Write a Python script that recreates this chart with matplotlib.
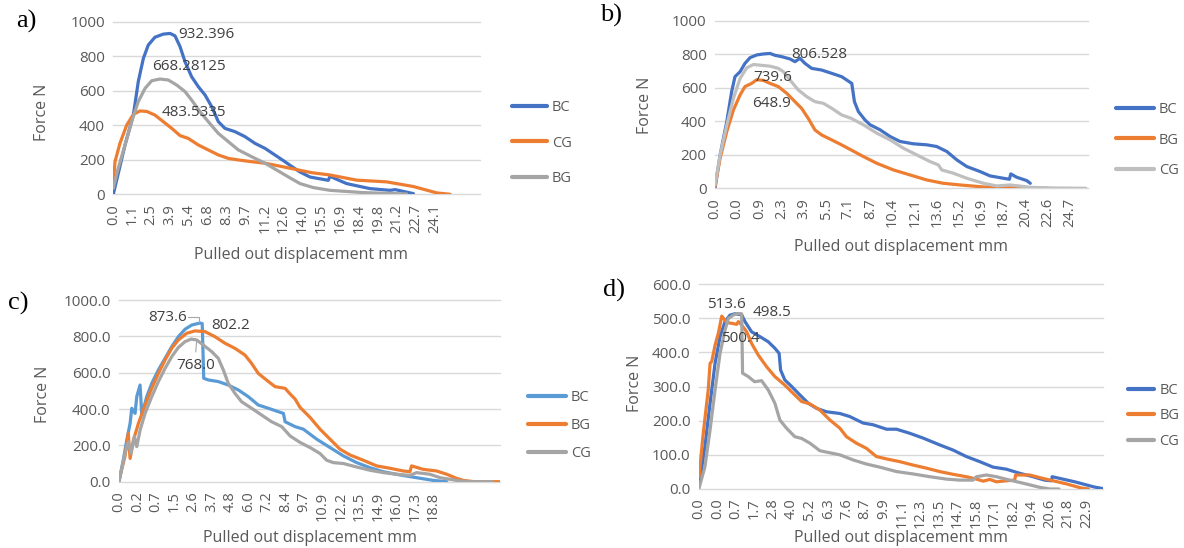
import matplotlib
matplotlib.use("Agg")
import matplotlib.pyplot as plt
import numpy as np

plt.rcParams['font.family'] = ['Open Sans', 'DejaVu Sans']

# ---------------- data (positions in category-label index units) ----------------
A_TICKS = ['0.0','1.1','2.5','3.9','5.4','6.8','8.3','9.7','11.2','12.6','14.0','15.5','16.9','18.4','19.8','21.2','22.7','24.1']
B_TICKS = ['0.0','0.0','0.9','2.3','3.9','5.5','7.1','8.7','10.4','12.1','13.6','15.2','16.9','18.7','20.4','22.6','24.7']
C_TICKS = ['0.0','0.2','0.7','1.5','2.6','3.7','4.8','6.0','7.2','8.4','9.7','10.9','12.2','13.5','14.9','16.0','17.3','18.8']
D_TICKS = ['0.0','0.0','0.7','1.7','2.8','4.0','5.2','6.3','7.6','8.7','9.9','11.1','12.3','13.5','14.7','15.8','17.1','18.2','19.4','20.6','21.8','22.9']

A_BC_POS = [0, 0.62, 1.06, 1.32, 1.59, 1.85, 2.2, 2.64, 3.0, 3.26, 3.53, 3.79, 4.14, 4.49, 4.85, 5.2, 5.55, 5.9, 6.43, 6.96, 7.49, 8.02, 8.54, 9.07, 9.34, 9.87, 10.4, 11.36, 11.45, 12.33, 13.56, 14.62, 14.9, 15.86]
A_BC_F = [0, 286, 459, 653, 788, 865, 910, 928, 932, 918, 855, 768, 681, 624, 575, 508, 421, 382, 363, 334, 295, 266, 228, 189, 168, 129, 100, 81, 104, 62, 33, 23, 27, 4]
A_CG_POS = [0, 0.09, 0.35, 0.71, 1.06, 1.41, 1.77, 2.2, 2.64, 3.09, 3.53, 3.96, 4.49, 5.02, 5.55, 6.08, 6.61, 7.31, 8.02, 8.72, 9.6, 10.5, 11.45, 12.86, 14.45, 15.86, 17.1, 17.8]
A_CG_F = [60, 189, 295, 401, 463, 483, 480, 459, 421, 382, 340, 324, 286, 257, 228, 208, 199, 189, 180, 165, 145, 125, 112, 82, 72, 45, 8, 0]
A_BG_POS = [0, 0.26, 0.62, 0.97, 1.32, 1.68, 2.03, 2.47, 2.91, 3.35, 3.79, 4.14, 4.58, 5.02, 5.55, 6.08, 6.61, 7.31, 8.02, 8.72, 9.34, 9.87, 10.57, 11.45, 13.2, 15.5]
A_BG_F = [35, 151, 286, 421, 537, 614, 658, 668, 662, 633, 595, 546, 479, 421, 353, 305, 257, 218, 180, 135, 95, 62, 39, 23, 10, 2]

B_BC_POS = [0, 0.23, 0.53, 0.75, 0.9, 1.13, 1.35, 1.58, 1.88, 2.18, 2.48, 2.7, 3.0, 3.38, 3.6, 3.83, 4.05, 4.35, 4.8, 5.26, 5.71, 6.16, 6.28, 6.46, 6.76, 6.98, 7.43, 7.88, 8.33, 8.93, 9.53, 9.98, 10.44, 10.89, 11.34, 11.94, 12.39, 12.99, 13.26, 13.32, 13.59, 14.04, 14.2]
B_BC_F = [0, 199, 398, 578, 667, 697, 747, 781, 797, 803, 806, 795, 787, 773, 757, 777, 747, 717, 707, 687, 667, 627, 518, 458, 408, 380, 350, 310, 280, 266, 260, 250, 220, 170, 130, 100, 74, 60, 54, 86, 66, 46, 30]
B_BG_POS = [0, 0.23, 0.53, 0.83, 1.13, 1.35, 1.65, 1.88, 2.18, 2.48, 2.85, 3.23, 3.6, 3.9, 4.2, 4.5, 4.8, 5.26, 5.71, 6.12, 6.68, 7.28, 8.03, 8.78, 9.53, 10.28, 11.04, 12.09, 13.14, 14.2, 15.0]
B_BG_F = [10, 179, 339, 468, 558, 608, 627, 649, 645, 627, 608, 568, 518, 478, 418, 349, 319, 289, 259, 230, 190, 150, 110, 80, 50, 30, 20, 8, 4, 2, 0]
B_CG_POS = [0, 0.23, 0.53, 0.83, 1.13, 1.43, 1.73, 2.1, 2.48, 2.85, 3.08, 3.38, 3.75, 4.13, 4.5, 4.88, 5.26, 5.71, 6.12, 6.68, 7.28, 7.88, 8.48, 9.08, 9.68, 10.06, 10.21, 10.74, 11.34, 12.09, 12.69, 13.29, 14.2, 15.2, 16.7]
B_CG_F = [20, 199, 378, 538, 657, 720, 740, 735, 730, 717, 697, 647, 588, 548, 518, 508, 478, 438, 419, 380, 330, 290, 240, 200, 160, 140, 110, 90, 60, 30, 14, 20, 6, 2, 0]

C_BC_POS = [0, 0.23, 0.42, 0.6, 0.69, 0.87, 0.96, 1.14, 1.23, 1.5, 1.77, 2.13, 2.49, 2.85, 3.21, 3.57, 3.93, 4.38, 4.5, 4.58, 4.83, 5.37, 5.91, 6.45, 6.99, 7.53, 8.08, 8.62, 8.89, 8.98, 9.52, 9.97, 10.69, 11.41, 12.13, 12.85, 13.57, 14.29, 15.19, 16.09, 17.0, 17.72]
C_BC_F = [0, 119, 229, 321, 404, 376, 468, 532, 367, 468, 541, 615, 679, 743, 798, 839, 862, 873.6, 870, 569, 560, 551, 532, 505, 468, 422, 404, 385, 376, 330, 303, 289, 234, 188, 142, 105, 77, 55, 37, 22, 7, 0]
C_BG_POS = [0, 0.32, 0.5, 0.6, 0.78, 1.05, 1.41, 1.77, 2.13, 2.49, 2.85, 3.21, 3.66, 4.11, 4.65, 5.19, 5.73, 6.27, 6.81, 7.17, 7.53, 8.08, 8.44, 8.98, 9.25, 9.52, 9.79, 10.33, 10.87, 11.41, 11.95, 12.49, 13.21, 13.93, 14.65, 15.37, 15.73, 15.82, 16.45, 17.17, 17.72, 18.26, 18.62, 19.2, 20.6]
C_BG_F = [9, 138, 266, 128, 229, 321, 422, 514, 596, 670, 734, 780, 817, 830, 826, 798, 762, 734, 697, 651, 596, 551, 523, 514, 483, 455, 409, 354, 289, 234, 179, 147, 118, 87, 74, 59, 55, 87, 68, 59, 41, 18, 7, 0, 0]
C_CG_POS = [0, 0.32, 0.5, 0.65, 0.83, 0.96, 1.14, 1.41, 1.77, 2.13, 2.49, 2.85, 3.21, 3.57, 3.9, 4.2, 4.56, 5.01, 5.37, 5.64, 5.91, 6.27, 6.63, 7.17, 7.71, 8.25, 8.8, 9.25, 9.79, 10.33, 10.87, 11.23, 11.59, 12.13, 12.85, 13.57, 14.29, 15.01, 15.73, 16.09, 16.81, 17.36, 17.9, 18.44, 19.0, 20.2]
C_CG_F = [0, 156, 220, 156, 248, 193, 284, 376, 468, 551, 624, 688, 739, 771, 785, 780, 752, 716, 679, 615, 541, 486, 440, 404, 367, 330, 303, 252, 216, 188, 155, 118, 105, 100, 81, 63, 50, 41, 35, 50, 41, 22, 13, 4, 0, 0]

D_BC_POS = [0, 0.32, 0.6, 0.87, 1.14, 1.41, 1.68, 1.95, 2.31, 2.49, 2.85, 3.3, 3.75, 4.11, 4.34, 4.42, 4.65, 5.02, 5.47, 5.92, 6.37, 6.91, 7.63, 8.17, 8.89, 9.43, 10.16, 10.7, 11.42, 12.14, 13.04, 13.76, 14.48, 15.21, 15.93, 16.65, 17.37, 18.09, 18.72, 19.1, 19.13, 20.36, 21.4, 21.9]
D_BC_F = [7, 124, 251, 368, 446, 490, 509, 513, 510, 490, 460, 446, 431, 412, 397, 348, 319, 300, 275, 251, 236, 226, 221, 212, 193, 188, 175, 175, 163, 149, 129, 114, 95, 80, 64, 58, 46, 36, 26, 24, 36, 21, 6, 1]
D_BG_POS = [0, 0.23, 0.5, 0.6, 0.69, 0.87, 1.05, 1.23, 1.32, 1.5, 1.77, 2.04, 2.13, 2.31, 2.58, 2.85, 3.21, 3.66, 4.11, 4.65, 5.1, 5.56, 6.01, 6.55, 7.09, 7.63, 7.99, 8.53, 9.07, 9.61, 10.16, 10.88, 11.6, 12.32, 13.04, 13.76, 14.48, 15.03, 15.39, 15.75, 16.11, 16.65, 17.1, 17.15, 17.91, 18.63, 19.9, 20.7, 21.1]
D_BG_F = [36, 163, 290, 368, 373, 421, 456, 506, 500, 487, 485, 482, 490, 480, 460, 426, 392, 358, 329, 304, 280, 256, 249, 231, 202, 178, 153, 134, 119, 95, 88, 80, 70, 61, 51, 43, 36, 29, 23, 28, 21, 24, 26, 41, 41, 31, 15, 3, 0]
D_CG_POS = [0, 0.32, 0.6, 0.87, 1.14, 1.41, 1.59, 1.86, 2.07, 2.31, 2.36, 2.67, 3.01, 3.39, 3.75, 4.11, 4.38, 4.74, 5.19, 5.56, 6.01, 6.55, 7.09, 7.63, 8.35, 9.07, 9.79, 10.7, 11.6, 12.5, 13.4, 14.12, 14.84, 15.03, 15.57, 16.11, 16.83, 17.55, 18.45, 19.0, 19.5]
D_CG_F = [2, 65, 173, 290, 397, 465, 499, 509, 513.6, 513, 339, 329, 314, 317, 290, 251, 202, 178, 153, 148, 134, 112, 106, 100, 85, 73, 64, 51, 44, 36, 29, 26, 26, 36, 41, 36, 26, 17, 5, 0, 0]

# data labels: (text, position, force)
A_LABELS = [('932.396', 3.44, 923), ('668.28125', 2.03, 740), ('483.5335', 2.56, 475)]
B_LABELS = [('806.528', 3.45, 797), ('739.6', 1.73, 661), ('648.9', 1.65, 508)]
C_LABELS = [('873.6', 1.58, 905), ('802.2', 5.01, 857), ('768.0', 3.07, 637)]
D_LABELS = [('513.6', 0.42, 541), ('498.5', 2.9, 517), ('500.4', 1.17, 441)]

BLUE = '#4472C4'; LBLUE = '#5B9BD5'; ORANGE = '#ED7D31'; GRAY = '#A5A5A5'; LGRAY = '#BFBFBF'
TXT = '#595959'

W, H = 1184, 548
fig = plt.figure(figsize=(W / 100, H / 100), dpi=100)


def px_axes(l, r, t, b):
    return fig.add_axes([l / W, 1 - b / H, (r - l) / W, (b - t) / H])


def setup(ax, ticks, xmax, ymax, ystep, yfmt, ylab_pos, xlab_pos):
    ax.set_xlim(0, xmax)
    ax.set_ylim(0, ymax)
    ax.set_xticks(np.arange(len(ticks)))
    ax.set_xticklabels(ticks, rotation=90, va='top', ha='center')
    yt = np.arange(0, ymax + 1e-9, ystep)
    ax.set_yticks(yt)
    ax.set_yticklabels([yfmt.format(v) for v in yt])
    ax.tick_params(axis='x', length=0, pad=7, labelsize=10.5, labelcolor=TXT)
    ax.tick_params(axis='y', length=0, pad=6, labelsize=11, labelcolor=TXT)
    for s in ax.spines.values():
        s.set_visible(False)
    ax.grid(axis='y', color='#D9D9D9', lw=1.0)
    ax.set_axisbelow(True)
    for gl in ax.get_ygridlines():
        gl.set_clip_on(False)
    ax.text(ylab_pos[0], ylab_pos[1], 'Force N', transform=ax.transAxes, rotation=90,
            ha='center', va='center', fontsize=11.5, color=TXT)
    ax.text(xlab_pos[0], xlab_pos[1], 'Pulled out displacement mm', transform=ax.transAxes,
            ha='center', va='center', fontsize=11.5, color=TXT)


def draw(ax, series, labels, leg_x, leg_y, hlen, lspace):
    handles = []
    for pos, f, c, name in series:
        h, = ax.plot(pos, f, color=c, lw=2.3, solid_joinstyle='round', solid_capstyle='round', label=name)
        handles.append(h)
    for t, x, y in labels:
        ax.text(x, y, t, ha='left', va='center', fontsize=11, color='#404040')
    leg = ax.legend(handles=handles, loc='center left', bbox_to_anchor=(leg_x / W, 1 - leg_y / H),
                    bbox_transform=fig.transFigure, frameon=False, borderpad=0, borderaxespad=0,
                    handlelength=hlen, handletextpad=0.35, labelspacing=lspace, fontsize=10.5)
    for t in leg.get_texts():
        t.set_color(TXT)
    for l in leg.get_lines():
        l.set_linewidth(3.0)


# panel a
axa = px_axes(113.3, 480, 21.7, 194.3)
setup(axa, A_TICKS, 19.38, 1000, 200, '{:.0f}', (-0.195, 0.477), (0.511, -0.352))
draw(axa, [(A_BC_POS, A_BC_F, BLUE, 'BC'), (A_CG_POS, A_CG_F, ORANGE, 'CG'), (A_BG_POS, A_BG_F, GRAY, 'BG')],
     A_LABELS, 512, 143, 2.4, 1.4)

# panel b
axb = px_axes(715, 1088, 21, 188.3)
setup(axb, B_TICKS, 16.8, 1000, 200, '{:.0f}', (-0.188, 0.498), (0.498, -0.349))
draw(axb, [(B_BC_POS, B_BC_F, BLUE, 'BC'), (B_BG_POS, B_BG_F, ORANGE, 'BG'), (B_CG_POS, B_CG_F, LGRAY, 'CG')],
     B_LABELS, 1116, 140, 2.6, 1.05)

# panel c
axc = px_axes(119, 500, 300, 481.7)
setup(axc, C_TICKS, 20.6, 1000, 200, '{:.1f}', (-0.2, 0.483), (0.501, -0.31))
draw(axc, [(C_BC_POS, C_BC_F, LBLUE, 'BC'), (C_BG_POS, C_BG_F, ORANGE, 'BG'), (C_CG_POS, C_CG_F, GRAY, 'CG')],
     C_LABELS, 528, 425.7, 2.6, 0.9)
# leader lines for panel c labels
axc.plot([3.75, 4.35, 4.35], [905, 905, 880], color='#A6A6A6', lw=0.8)
axc.plot([4.2, 4.15], [775, 715], color='#A6A6A6', lw=0.8)

# panel d
axd = px_axes(699, 1103.3, 284, 489)
setup(axd, D_TICKS, 21.9, 600, 100, '{:.1f}', (-0.159, 0.517), (0.5, -0.238))
draw(axd, [(D_BC_POS, D_BC_F, BLUE, 'BC'), (D_BG_POS, D_BG_F, ORANGE, 'BG'), (D_CG_POS, D_CG_F, GRAY, 'CG')],
     D_LABELS, 1128, 416, 1.8, 0.7)

# panel letters
for letter, x, y in [('a)', 26, 21.7), ('b)', 611, 15), ('c)', 18, 303), ('d)', 614, 290)]:
    fig.text(x / W, 1 - y / H, letter, ha='center', va='center', fontsize=19,
             family=['Liberation Serif', 'DejaVu Serif'], color='black')

fig.savefig('out.png', dpi=100)
